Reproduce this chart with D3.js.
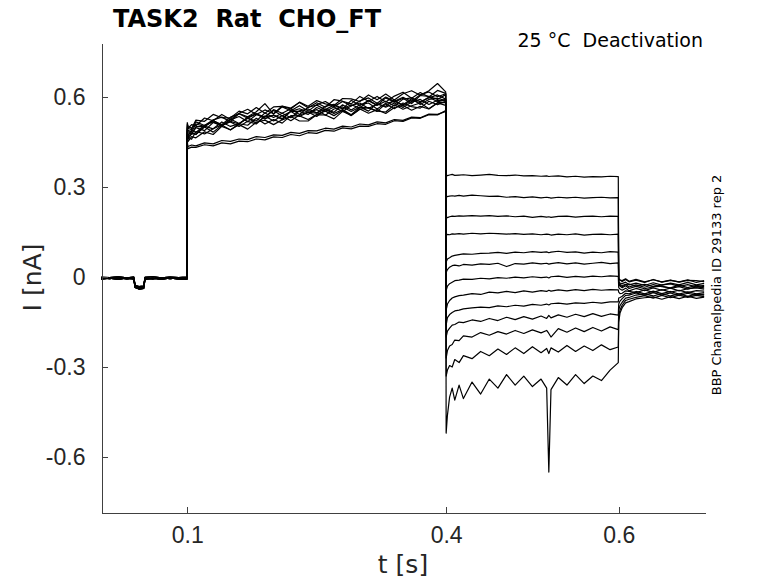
<!DOCTYPE html>
<html>
<head>
<meta charset="utf-8">
<script src="https://cdn.jsdelivr.net/npm/d3@7"></script>
<style>
  body { margin: 0; background: #fff; }
  svg { font-family: "DejaVu Sans", sans-serif; }
  .axis path, .axis line { stroke: #404040; shape-rendering: crispEdges; }
  .axis text { fill: #262626; font-size: 23px; }
</style>
</head>
<body>
<svg id="chart"></svg>
<script>
// sweep segments: holding, prepulse, test step, tail
const baseTimes = [0, 0.01, 0.02, 0.03, 0.038, 0.0395, 0.044, 0.0495, 0.051, 0.06, 0.07, 0.08, 0.09, 0.0995];
const baselineSweeps = [
  [-0.003, -0.005, -0.002, -0.006, -0.004, -0.03, -0.036, -0.033, -0.004, -0.006, -0.002, -0.005, -0.003, -0.004],
  [-0.007, -0.004, -0.008, -0.003, -0.007, -0.035, -0.04, -0.038, -0.008, -0.004, -0.008, -0.003, -0.007, -0.008],
  [-0.001, -0.002, 0.001, -0.003, 0.0, -0.028, -0.032, -0.03, -0.001, 0.001, -0.003, 0.0, -0.002, 0.0]
];

const stepTimes = [0.1, 0.1008, 0.105, 0.11, 0.12, 0.13, 0.14, 0.15, 0.16, 0.17, 0.18, 0.19, 0.2, 0.21, 0.22, 0.23, 0.24,
  0.25, 0.26, 0.27, 0.28, 0.29, 0.3, 0.31, 0.32, 0.33, 0.34, 0.35, 0.36, 0.37, 0.38, 0.39, 0.3995];
const stepSweeps = [
  [0.51, 0.495, 0.508, 0.504, 0.53, 0.521, 0.542, 0.525, 0.546, 0.559, 0.542, 0.557, 0.544, 0.57, 0.563, 0.582, 0.564, 0.581, 0.566, 0.591, 0.586, 0.577, 0.602, 0.586, 0.602, 0.583, 0.603, 0.616, 0.596, 0.615, 0.6, 0.622, 0.612],
  [0.5, 0.489, 0.484, 0.51, 0.502, 0.521, 0.508, 0.533, 0.544, 0.529, 0.544, 0.533, 0.558, 0.546, 0.561, 0.542, 0.566, 0.573, 0.558, 0.573, 0.56, 0.589, 0.572, 0.588, 0.572, 0.597, 0.583, 0.596, 0.578, 0.605, 0.602, 0.592, 0.608],
  [0.49, 0.471, 0.49, 0.482, 0.506, 0.517, 0.504, 0.519, 0.51, 0.533, 0.544, 0.527, 0.54, 0.528, 0.553, 0.552, 0.542, 0.565, 0.552, 0.567, 0.552, 0.571, 0.58, 0.562, 0.576, 0.569, 0.591, 0.57, 0.59, 0.581, 0.6, 0.584, 0.592],
  [0.505, 0.496, 0.491, 0.517, 0.505, 0.524, 0.533, 0.518, 0.545, 0.534, 0.551, 0.578, 0.543, 0.567, 0.554, 0.571, 0.553, 0.574, 0.585, 0.568, 0.585, 0.57, 0.587, 0.597, 0.579, 0.6, 0.586, 0.599, 0.585, 0.608, 0.617, 0.601, 0.611],
  [0.48, 0.459, 0.478, 0.476, 0.5, 0.483, 0.506, 0.517, 0.502, 0.519, 0.51, 0.537, 0.52, 0.538, 0.521, 0.54, 0.55, 0.535, 0.558, 0.545, 0.558, 0.541, 0.566, 0.564, 0.552, 0.577, 0.561, 0.58, 0.568, 0.563, 0.586, 0.574, 0.586],
  [0.495, 0.488, 0.477, 0.501, 0.501, 0.522, 0.505, 0.524, 0.535, 0.518, 0.541, 0.534, 0.555, 0.537, 0.552, 0.561, 0.549, 0.546, 0.569, 0.576, 0.561, 0.574, 0.563, 0.589, 0.573, 0.586, 0.57, 0.593, 0.597, 0.584, 0.597, 0.607, 0.593],
  [0.485, 0.466, 0.481, 0.475, 0.503, 0.494, 0.517, 0.502, 0.511, 0.53, 0.513, 0.534, 0.539, 0.525, 0.552, 0.535, 0.549, 0.558, 0.539, 0.56, 0.567, 0.552, 0.567, 0.553, 0.579, 0.566, 0.58, 0.565, 0.583, 0.592, 0.575, 0.589, 0.587],
  [0.515, 0.504, 0.495, 0.523, 0.519, 0.542, 0.531, 0.53, 0.553, 0.544, 0.565, 0.546, 0.567, 0.569, 0.56, 0.583, 0.569, 0.588, 0.577, 0.572, 0.595, 0.594, 0.585, 0.607, 0.591, 0.61, 0.59, 0.611, 0.621, 0.606, 0.621, 0.645, 0.617],
  [0.475, 0.466, 0.459, 0.485, 0.477, 0.494, 0.507, 0.49, 0.511, 0.506, 0.529, 0.51, 0.525, 0.513, 0.538, 0.537, 0.525, 0.542, 0.553, 0.538, 0.555, 0.538, 0.559, 0.565, 0.553, 0.55, 0.574, 0.559, 0.571, 0.58, 0.561, 0.581, 0.581],
  [0.49, 0.481, 0.476, 0.498, 0.488, 0.515, 0.504, 0.527, 0.512, 0.529, 0.52, 0.547, 0.532, 0.546, 0.531, 0.554, 0.56, 0.547, 0.56, 0.549, 0.574, 0.557, 0.574, 0.58, 0.56, 0.579, 0.585, 0.574, 0.594, 0.575, 0.592, 0.596, 0.588],
  [0.47, 0.451, 0.468, 0.464, 0.484, 0.475, 0.502, 0.491, 0.508, 0.493, 0.516, 0.523, 0.508, 0.524, 0.535, 0.52, 0.52, 0.541, 0.54, 0.527, 0.552, 0.539, 0.56, 0.546, 0.558, 0.545, 0.565, 0.572, 0.556, 0.569, 0.56, 0.58, 0.572],
  [0.45, 0.435, 0.44, 0.437, 0.447, 0.444, 0.455, 0.452, 0.46, 0.458, 0.468, 0.465, 0.474, 0.472, 0.482, 0.479, 0.488, 0.487, 0.496, 0.493, 0.503, 0.5, 0.51, 0.507, 0.517, 0.514, 0.525, 0.522, 0.533, 0.531, 0.543, 0.542, 0.552],
  [0.44, 0.428, 0.433, 0.432, 0.441, 0.437, 0.447, 0.444, 0.453, 0.451, 0.46, 0.457, 0.467, 0.465, 0.475, 0.471, 0.481, 0.479, 0.489, 0.486, 0.497, 0.494, 0.503, 0.502, 0.511, 0.509, 0.521, 0.519, 0.53, 0.529, 0.541, 0.54, 0.555]
];

const testTimes = [0.4, 0.4015, 0.404, 0.407, 0.41, 0.415, 0.42, 0.43, 0.44, 0.45, 0.46, 0.47, 0.48, 0.49, 0.5, 0.51,
  0.5165, 0.519, 0.5215, 0.53, 0.54, 0.55, 0.56, 0.57, 0.58, 0.59, 0.5995];
const testSweeps = [
  [0.34, 0.338, 0.34, 0.342, 0.339, 0.34, 0.341, 0.338, 0.34, 0.342, 0.339, 0.338, 0.34, 0.337, 0.338, 0.336, 0.337, 0.335, 0.336, 0.337, 0.334, 0.336, 0.333, 0.335, 0.334, 0.336, 0.335],
  [0.27, 0.268, 0.27, 0.271, 0.27, 0.272, 0.27, 0.273, 0.271, 0.269, 0.27, 0.266, 0.268, 0.265, 0.267, 0.264, 0.266, 0.265, 0.263, 0.266, 0.264, 0.266, 0.263, 0.265, 0.266, 0.264, 0.265],
  [0.2, 0.198, 0.201, 0.203, 0.202, 0.204, 0.203, 0.205, 0.203, 0.205, 0.202, 0.204, 0.201, 0.203, 0.199, 0.202, 0.2, 0.201, 0.199, 0.202, 0.203, 0.2, 0.202, 0.203, 0.201, 0.203, 0.202],
  [0.14, 0.142, 0.141, 0.144, 0.143, 0.145, 0.143, 0.146, 0.144, 0.146, 0.145, 0.143, 0.145, 0.142, 0.144, 0.141, 0.143, 0.142, 0.14, 0.143, 0.141, 0.144, 0.14, 0.142, 0.143, 0.141, 0.143],
  [0.05, 0.06, 0.064, 0.07, 0.072, 0.075, 0.077, 0.076, 0.079, 0.08, 0.082, 0.079, 0.083, 0.081, 0.085, 0.082, 0.084, 0.081, 0.083, 0.086, 0.082, 0.084, 0.08, 0.083, 0.081, 0.085, 0.083],
  [0.015, 0.025, 0.033, 0.038, 0.04, 0.037, 0.042, 0.04, 0.044, 0.042, 0.046, 0.035, 0.045, 0.043, 0.047, 0.044, 0.046, 0.043, 0.045, 0.048, 0.044, 0.047, 0.043, 0.046, 0.049, 0.045, 0.047],
  [-0.045, -0.03, -0.022, -0.017, -0.012, -0.01, -0.007, -0.008, -0.004, -0.006, -0.002, -0.004, 0.0, -0.003, 0.001, -0.002, 0.0, -0.003, 0.001, 0.003, -0.001, 0.002, 0.0, 0.003, 0.001, 0.004, 0.002],
  [-0.11, -0.09, -0.078, -0.07, -0.066, -0.062, -0.06, -0.055, -0.058, -0.05, -0.053, -0.048, -0.052, -0.046, -0.05, -0.045, -0.048, -0.044, -0.047, -0.043, -0.046, -0.042, -0.045, -0.041, -0.044, -0.042, -0.043],
  [-0.16, -0.135, -0.125, -0.118, -0.113, -0.11, -0.106, -0.103, -0.1, -0.102, -0.096, -0.099, -0.094, -0.097, -0.091, -0.094, -0.09, -0.093, -0.089, -0.087, -0.09, -0.086, -0.088, -0.084, -0.087, -0.083, -0.083],
  [-0.2, -0.18, -0.17, -0.16, -0.158, -0.15, -0.152, -0.143, -0.148, -0.138, -0.145, -0.134, -0.142, -0.132, -0.14, -0.13, -0.138, -0.128, -0.136, -0.126, -0.134, -0.124, -0.132, -0.122, -0.131, -0.123, -0.127],
  [-0.27, -0.245, -0.23, -0.225, -0.21, -0.212, -0.196, -0.2, -0.185, -0.194, -0.182, -0.19, -0.178, -0.188, -0.176, -0.186, -0.178, -0.188, -0.2, -0.172, -0.184, -0.17, -0.182, -0.168, -0.18, -0.166, -0.175],
  [-0.33, -0.31, -0.295, -0.3, -0.275, -0.285, -0.262, -0.272, -0.248, -0.262, -0.24, -0.258, -0.236, -0.255, -0.232, -0.252, -0.238, -0.255, -0.236, -0.25, -0.228, -0.248, -0.23, -0.245, -0.226, -0.242, -0.233],
  [-0.52, -0.46, -0.4, -0.37, -0.41, -0.36, -0.405, -0.35, -0.39, -0.34, -0.37, -0.325, -0.36, -0.33, -0.365, -0.34, -0.37, -0.65, -0.375, -0.335, -0.36, -0.325, -0.355, -0.33, -0.345, -0.31, -0.285]
];

const tailTimes = [0.6, 0.6015, 0.604, 0.608, 0.612, 0.62, 0.63, 0.64, 0.65, 0.66, 0.67, 0.68, 0.69, 0.699];
const tailSweeps = [
  [-0.005, -0.01, -0.015, -0.008, -0.016, -0.01, -0.018, -0.008, -0.017, -0.011, -0.016, -0.009, -0.018, -0.012],
  [-0.015, -0.02, -0.022, -0.017, -0.026, -0.02, -0.028, -0.019, -0.027, -0.02, -0.026, -0.018, -0.026, -0.021],
  [-0.005, -0.01, -0.012, -0.006, -0.014, -0.008, -0.016, -0.009, -0.016, -0.01, -0.017, -0.011, -0.012, -0.015],
  [-0.02, -0.025, -0.028, -0.024, -0.033, -0.026, -0.034, -0.025, -0.032, -0.036, -0.027, -0.035, -0.028, -0.032],
  [-0.025, -0.03, -0.036, -0.029, -0.038, -0.031, -0.039, -0.033, -0.03, -0.038, -0.032, -0.04, -0.033, -0.036],
  [-0.02, -0.026, -0.032, -0.025, -0.023, -0.031, -0.024, -0.032, -0.026, -0.023, -0.031, -0.025, -0.033, -0.028],
  [-0.035, -0.04, -0.044, -0.037, -0.046, -0.038, -0.045, -0.036, -0.044, -0.037, -0.046, -0.039, -0.036, -0.04],
  [-0.05, -0.055, -0.054, -0.046, -0.048, -0.052, -0.043, -0.051, -0.042, -0.05, -0.044, -0.052, -0.045, -0.047],
  [-0.07, -0.068, -0.064, -0.054, -0.056, -0.048, -0.056, -0.047, -0.055, -0.048, -0.057, -0.049, -0.056, -0.052],
  [-0.09, -0.08, -0.072, -0.061, -0.06, -0.053, -0.061, -0.052, -0.06, -0.053, -0.062, -0.054, -0.061, -0.057],
  [-0.11, -0.095, -0.084, -0.07, -0.068, -0.06, -0.056, -0.063, -0.055, -0.063, -0.056, -0.064, -0.057, -0.06],
  [-0.13, -0.11, -0.094, -0.078, -0.074, -0.068, -0.062, -0.07, -0.061, -0.069, -0.06, -0.068, -0.061, -0.065],
  [-0.15, -0.12, -0.102, -0.086, -0.082, -0.073, -0.069, -0.066, -0.074, -0.065, -0.072, -0.064, -0.071, -0.067]
];

const xTickValues = [0.1, 0.4, 0.6];
const xTickLabels = ["0.1", "0.4", "0.6"];
const yTickValues = [-0.6, -0.3, 0, 0.3, 0.6];
const yTickLabels = ["-0.6", "-0.3", "0", "0.3", "0.6"];

const chart = () => {
  const w = 778;
  const h = 583;
  const left = 101;
  const right = 705;
  const top = 43;
  const bottom = 512;

  const svg = d3.select("#chart").attr("width", w).attr("height", h);

  const xScale = d3.scaleLinear().domain([0, 0.7]).range([left, right]);
  const yScale = d3.scaleLinear().domain([-0.783, 0.78]).range([bottom, top]);

  // build each sweep from its four segments
  const sweeps = stepSweeps.map((step, i) => {
    const pts = [];
    baseTimes.forEach((t, j) => pts.push([t, baselineSweeps[i % 3][j]]));
    stepTimes.forEach((t, j) => pts.push([t, step[j]]));
    testTimes.forEach((t, j) => pts.push([t, testSweeps[i][j]]));
    tailTimes.forEach((t, j) => pts.push([t, tailSweeps[i][j]]));
    return pts;
  });

  const line = d3
    .line()
    .x((d) => xScale(d[0]))
    .y((d) => yScale(d[1]));

  svg
    .append("g")
    .selectAll("path")
    .data(sweeps)
    .enter()
    .append("path")
    .attr("d", line)
    .attr("fill", "none")
    .attr("stroke", "#000")
    .attr("stroke-width", 1.2)
    .attr("stroke-linejoin", "round");

  const xAxis = d3
    .axisBottom(xScale)
    .tickValues(xTickValues)
    .tickFormat((d, i) => xTickLabels[i])
    .tickSizeInner(-6)
    .tickSizeOuter(0)
    .tickPadding(14);

  svg
    .append("g")
    .attr("class", "axis")
    .attr("transform", "translate(0," + (bottom + 0.5) + ")")
    .call(xAxis);

  const yAxis = d3
    .axisLeft(yScale)
    .tickValues(yTickValues)
    .tickFormat((d, i) => yTickLabels[i])
    .tickSizeInner(-6)
    .tickSizeOuter(0)
    .tickPadding(16);

  svg
    .append("g")
    .attr("class", "axis")
    .attr("transform", "translate(" + (left + 0.5) + ",0)")
    .call(yAxis);

  svg.selectAll(".axis .domain").attr("stroke", "#404040");

  svg
    .append("text")
    .attr("x", (left + right) / 2)
    .attr("y", 573)
    .attr("text-anchor", "middle")
    .attr("font-size", "25px")
    .attr("fill", "#262626")
    .text("t [s]");

  svg
    .append("text")
    .attr("transform", "rotate(-90)")
    .attr("x", -(top + bottom) / 2)
    .attr("y", 41)
    .attr("text-anchor", "middle")
    .attr("font-size", "25px")
    .attr("fill", "#262626")
    .text("I [nA]");

  svg
    .append("text")
    .attr("x", 113)
    .attr("y", 27)
    .attr("font-size", "24px")
    .attr("font-weight", "bold")
    .attr("fill", "#000")
    .style("white-space", "pre")
    .text("TASK2  Rat  CHO_FT");

  svg
    .append("text")
    .attr("x", 703)
    .attr("y", 47)
    .attr("text-anchor", "end")
    .attr("font-size", "19px")
    .attr("fill", "#000")
    .style("white-space", "pre")
    .text("25 °C  Deactivation");

  svg
    .append("text")
    .attr("transform", "rotate(-90)")
    .attr("x", -285)
    .attr("y", 721)
    .attr("text-anchor", "middle")
    .attr("font-size", "13px")
    .attr("fill", "#000")
    .text("BBP Channelpedia ID 29133 rep 2");
};

chart();
</script>
</body>
</html>
